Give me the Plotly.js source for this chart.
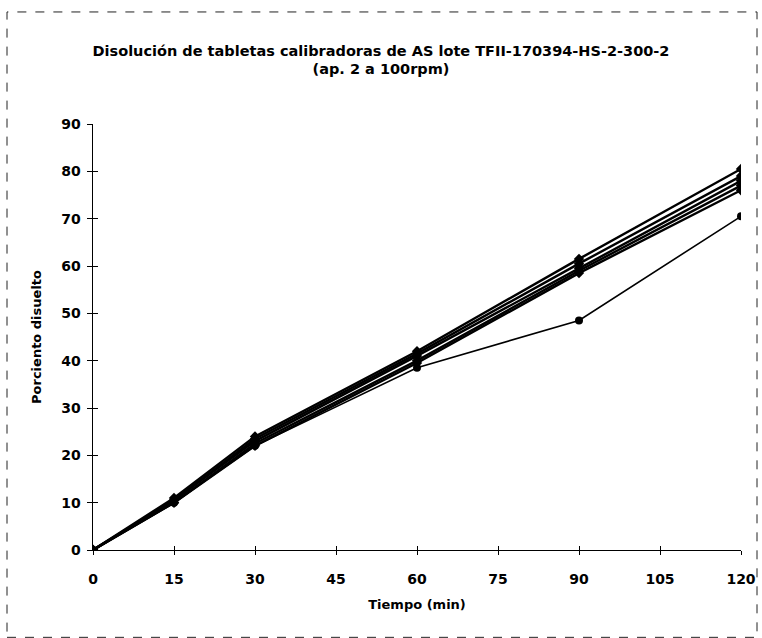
<!DOCTYPE html>
<html>
<head>
<meta charset="utf-8">
<script src="https://cdn.plot.ly/plotly-3.0.1.min.js"></script>
<style>
html,body{margin:0;padding:0;background:#fff;}
#chart{width:762px;height:638px;}
</style>
</head>
<body>
<div id="chart"></div>
<script>
// Time points (min)
const tiempo = [0, 15, 30, 60, 90, 120];
// Percent dissolved per tablet
const tableta1 = [0, 11.0, 24.0, 42.0, 61.5, 80.5];
const tableta2 = [0, 10.5, 23.5, 41.5, 60.5, 79.0];
const tableta3 = [0, 10.5, 23.0, 41.0, 59.5, 78.0];
const tableta4 = [0, 10.0, 22.5, 40.0, 59.0, 77.0];
const tableta5 = [0, 10.0, 22.0, 39.5, 58.5, 76.0];
const tableta6 = [0, 10.0, 22.0, 38.5, 48.5, 70.5];
const xTicks = [0, 15, 30, 45, 60, 75, 90, 105, 120];
const yTicks = [0, 10, 20, 30, 40, 50, 60, 70, 80, 90];

const series = [tableta1, tableta2, tableta3, tableta4, tableta5, tableta6];
const widths = [2.4, 2.4, 2.4, 2.4, 2.4, 1.6];
const traces = series.map((s, i) => ({
  x: tiempo, y: s, type: 'scatter', mode: 'lines+markers',
  line: {color: '#000', width: widths[i]},
  marker: {color: '#000', size: 8, symbol: i === 5 ? 'circle' : 'diamond'},
  showlegend: false, hoverinfo: 'skip'
}));

const fontFam = '"DejaVu Sans", "Liberation Sans", Arial, sans-serif';
const layout = {
  width: 762, height: 638,
  margin: {l: 93, r: 21, t: 124, b: 88},
  paper_bgcolor: '#fff', plot_bgcolor: '#fff',
  title: {
    text: '<b>Disolución de tabletas calibradoras de AS lote TFII-170394-HS-2-300-2<br>(ap. 2 a 100rpm)</b>',
    font: {family: fontFam, size: 14.5, color: '#000'},
    x: 0.5, xanchor: 'center', y: 0.913, yanchor: 'middle'
  },
  xaxis: {
    range: [0, 120], tickvals: xTicks, ticktext: xTicks.map(v => '<b>' + v + '</b>'),
    showgrid: false, zeroline: false, showline: true, linecolor: '#000', linewidth: 1,
    ticks: 'outside', ticklen: 4, tickcolor: '#000', tickwidth: 1,
    ticklabelstandoff: 12,
    tickfont: {family: fontFam, size: 14, color: '#000'},
    title: {text: '<b>Tiempo (min)</b>', font: {family: fontFam, size: 13, color: '#000'}, standoff: 14}
  },
  yaxis: {
    range: [0, 90], tickvals: yTicks, ticktext: yTicks.map(v => '<b>' + v + '</b>'),
    showgrid: false, zeroline: false, showline: true, linecolor: '#000', linewidth: 1.5,
    ticks: 'outside', ticklen: 5, tickcolor: '#000', tickwidth: 1,
    ticklabelstandoff: 3,
    tickfont: {family: fontFam, size: 14, color: '#000'},
    title: {text: '<b>Porciento disuelto</b>', font: {family: fontFam, size: 13, color: '#000'}, standoff: 16}
  },
  xaxis2: {
    overlaying: 'x', anchor: 'y', range: [0, 120], tickvals: xTicks, showticklabels: false,
    showgrid: false, zeroline: false, ticks: 'inside', ticklen: 4, tickcolor: '#000', side: 'bottom'
  },
  yaxis2: {
    overlaying: 'y', anchor: 'x', range: [0, 90], tickvals: yTicks, showticklabels: false,
    showgrid: false, zeroline: false, ticks: 'inside', ticklen: 5, tickcolor: '#000', side: 'left'
  },
  shapes: [{
    type: 'rect', xref: 'paper', yref: 'paper',
    x0: -0.1327, x1: 1.0247, y0: -0.205, y1: 1.263,
    line: {color: '#222', width: 1, dash: 'dash'}, fillcolor: 'rgba(0,0,0,0)'
  }]
};

traces.push({x: [0], y: [0], xaxis: 'x2', yaxis: 'y2', mode: 'markers',
  marker: {opacity: 0}, showlegend: false, hoverinfo: 'skip'});

Plotly.newPlot('chart', traces, layout, {staticPlot: true, displayModeBar: false});
</script>
</body>
</html>
